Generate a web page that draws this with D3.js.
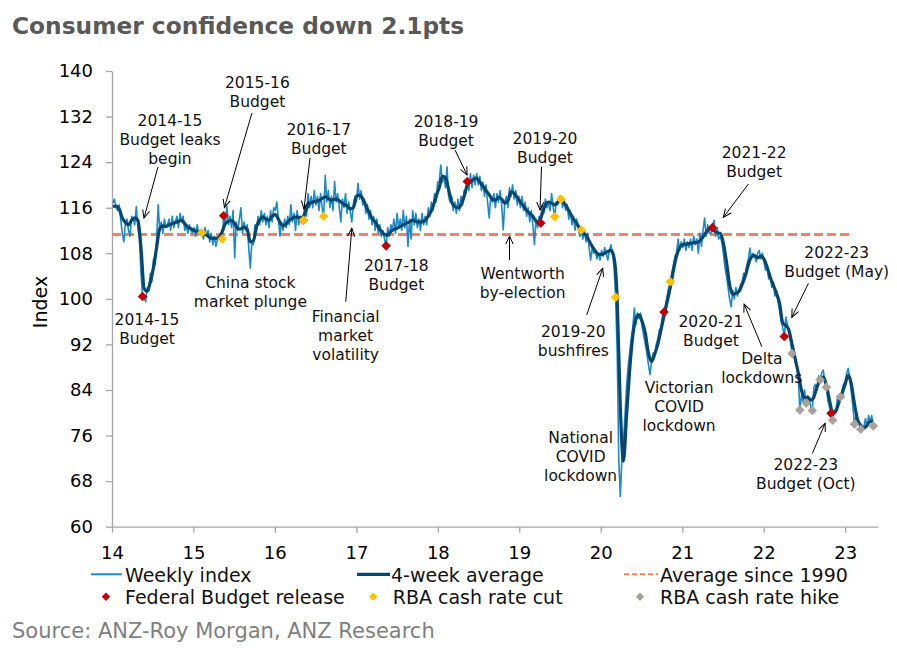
<!DOCTYPE html>
<html>
<head>
<meta charset="utf-8">
<script src="https://cdnjs.cloudflare.com/ajax/libs/d3/7.8.5/d3.min.js"></script>
<style>
  body { margin: 0; background: #fff; }
  svg { font-family: Verdana, "DejaVu Sans", sans-serif; }
</style>
</head>
<body>
<svg id="chart" width="897" height="654"></svg>
<script>
// Weekly index, one array per calendar year (Sunday readings, starting first Sunday of the year)
var weekly2014 = [116.8,117.5,116.0,115.5,116.5,114.0,111.5,110.0,113.5,114.0,112.0,111.0,114.5,114.0,113.0,116.2,112.5,110.5,104.5,100.4,100.2,99.5,102.0,101.5,104.5,103.0,107.0,106.0,110.5,116.5,112.0,113.5,111.5,114.0,112.5,113.0,114.0,112.0,114.5,112.5,113.5,114.5,112.5,115.0,113.5,114.5,112.0,113.0,111.5,113.0,112.0,111.5];
var weekly2015 = [112.5,111.0,113.0,111.5,112.0,111.5,110.5,112.5,111.0,112.0,110.0,111.5,109.5,111.0,109.2,110.5,111.0,110.2,110.5,114.6,113.0,116.2,113.0,114.5,112.5,115.5,107.2,113.5,112.0,114.0,116.0,111.5,113.5,112.0,113.0,109.0,105.4,110.0,109.5,113.0,112.0,114.5,113.0,115.5,113.5,115.0,113.0,114.5,112.5,115.5,113.5,116.0];
var weekly2016 = [115.5,117.0,114.0,111.0,113.5,112.0,114.0,112.5,114.5,113.0,116.5,113.5,115.0,112.0,115.5,113.0,114.5,113.5,113.8,116.5,114.5,118.5,116.0,118.0,116.0,119.0,116.5,118.0,115.5,118.5,116.0,114.5,121.7,117.0,119.0,116.0,118.0,115.5,120.6,117.0,118.5,116.0,113.5,117.5,116.0,118.5,115.0,117.0,115.5,113.5,116.5,118.0];
var weekly2017 = [117.0,120.3,117.5,119.0,116.5,117.5,115.0,116.5,114.0,115.5,113.0,114.5,112.0,114.0,111.5,113.0,111.0,112.0,110.5,109.3,112.5,111.0,113.0,112.0,114.0,111.5,115.0,112.5,114.0,112.0,115.5,112.5,114.5,109.2,114.0,110.5,115.5,113.0,115.0,112.5,114.0,112.0,115.0,113.0,114.5,113.0,116.0,114.5,117.0,115.5,118.5,117.0,120.5];
var weekly2018 = [120.5,123.5,120.5,121.5,119.5,123.2,118.0,117.0,118.0,115.5,117.0,115.0,117.5,115.5,118.0,116.5,119.0,118.5,120.6,119.0,122.0,119.5,121.7,120.0,122.0,120.0,121.5,119.0,120.5,118.0,120.0,117.0,114.2,118.0,117.0,118.5,116.0,118.5,117.0,119.0,116.5,112.1,117.0,118.0,116.0,119.5,118.0,120.0,117.5,119.0,116.5,118.0];
var weekly2019 = [116.0,118.0,115.5,117.0,114.5,116.0,113.5,115.5,113.0,109.5,114.0,112.5,114.5,113.3,116.5,115.0,117.5,116.0,117.0,115.5,118.5,116.0,114.4,117.0,116.5,118.0,117.5,116.0,117.5,115.5,116.5,114.0,115.5,113.0,114.5,112.0,114.0,112.5,111.0,112.1,110.5,112.0,110.0,111.5,109.0,106.8,109.0,108.0,108.5,107.0,108.0,106.8];
var weekly2020 = [108.5,107.5,109.0,108.0,106.8,108.5,109.5,108.0,105.5,100.3,90.5,72.0,65.3,72.0,74.8,79.6,84.7,88.1,90.5,93.0,95.0,98.4,95.5,97.5,96.5,97.5,95.0,93.5,92.0,90.5,88.5,86.7,89.0,90.5,90.0,92.0,93.0,94.5,95.0,97.0,97.7,99.0,100.5,102.0,103.0,104.5,106.0,107.5,108.0,110.5,108.5,110.0];
var weekly2021 = [109.0,110.5,108.5,110.0,109.0,110.5,108.5,111.0,109.5,110.5,108.0,111.5,109.2,112.0,114.2,111.0,113.0,111.5,111.5,112.5,113.8,111.0,112.5,110.5,111.0,110.0,108.0,105.5,104.0,102.0,100.0,98.6,101.5,100.0,102.0,100.5,101.5,102.5,103.0,104.5,104.0,106.0,107.0,108.9,107.0,108.0,107.5,106.5,108.0,108.5,107.0,108.0];
var weekly2022 = [106.5,105.0,106.0,103.5,104.5,102.0,103.0,100.5,101.5,99.5,98.0,96.0,95.0,93.4,96.8,95.5,94.0,92.5,90.4,91.0,89.0,88.0,86.0,80.5,83.0,82.0,84.0,81.7,83.0,82.5,81.0,80.4,84.5,85.0,84.0,86.5,85.8,87.0,87.5,85.5,84.5,82.0,81.0,79.9,78.7,80.5,80.0,82.5,82.0,82.8,84.0,85.0];
var weekly2023 = [85.5,87.0,87.8,86.0,83.5,81.0,78.0,79.5,78.5,78.0,77.1,76.8,77.5,79.0,77.5,79.5,78.5,79.5,77.7,78.0];

// 4-week average, read every second week from the first Sunday of each year
var avg2014 = [116.2,116.3,115.8,114.2,113.4,113.0,113.8,114.2,113.8,109.0,101.8,101.3,103.0,105.5,109.0,112.3,112.8,112.7,113.0,113.2,113.4,113.6,113.8,113.2,112.6,112.3];
var avg2015 = [112.0,111.8,111.5,111.3,111.2,110.8,110.6,110.6,110.8,111.8,113.2,113.6,113.8,113.2,112.3,112.3,112.6,112.2,110.0,110.2,112.7,113.8,114.4,114.0,113.8,114.5];
var avg2016 = [114.8,114.0,113.0,112.9,113.5,114.0,114.3,114.4,114.2,114.5,115.8,116.7,117.0,117.1,117.3,117.6,117.9,117.6,117.3,117.5,117.4,117.0,116.6,116.3,115.8,116.0];
var avg2017 = [118.0,118.2,117.6,116.4,115.2,114.1,113.5,112.6,111.8,111.3,111.2,111.8,112.2,112.4,112.7,113.0,113.3,113.5,113.8,113.6,113.5,113.5,113.8,114.5,115.5,117.0,118.8];
var avg2018 = [119.5,121.5,121.3,119.2,117.0,116.2,116.0,116.5,118.0,120.0,120.5,121.0,121.2,120.5,119.8,119.0,118.3,117.5,117.3,117.8,117.5,116.8,117.2,118.8,118.5,117.8];
var avg2019 = [117.0,116.3,115.5,115.0,114.5,113.6,113.4,115.0,116.5,117.0,116.8,116.5,117.0,117.3,116.8,116.0,115.0,114.0,113.3,112.3,111.5,111.2,110.2,109.2,108.4,107.8];
var avg2020 = [107.8,108.0,108.3,108.5,107.2,100.0,81.0,71.5,79.5,87.5,93.5,96.5,97.2,96.0,94.0,90.5,89.0,90.3,92.0,94.5,97.0,99.5,102.0,105.0,107.5,109.0];
var avg2021 = [109.5,109.6,109.7,109.8,109.9,110.0,110.5,111.3,112.0,112.4,112.0,111.6,111.5,109.8,106.5,102.5,100.8,101.0,101.3,102.5,104.0,106.0,107.4,107.6,107.2,107.5];
var avg2022 = [107.0,105.6,103.8,102.4,101.0,99.2,95.8,95.3,94.5,92.0,89.5,87.0,84.0,82.6,82.7,82.2,82.8,84.5,85.8,86.3,84.8,82.2,80.0,80.3,81.8,83.3];
var avg2023 = [85.0,86.6,85.0,81.5,78.8,77.8,77.3,77.8,78.5,78.5];

var years = [2014,2015,2016,2017,2018,2019,2020,2021,2022,2023];
var weeklyByYear = [weekly2014,weekly2015,weekly2016,weekly2017,weekly2018,weekly2019,weekly2020,weekly2021,weekly2022,weekly2023];
var avgByYear = [avg2014,avg2015,avg2016,avg2017,avg2018,avg2019,avg2020,avg2021,avg2022,avg2023];

var averageSince1990 = 111.3;
var averageLineSpan = ["2014-01-01", "2023-01-22"];

var budgetDates = ["2014-05-18","2015-05-17","2016-05-08","2017-05-14","2018-05-13","2019-04-07","2020-10-11","2021-05-16","2022-04-03","2022-10-30"];
var budgetValues = [100.4,114.6,113.8,109.3,120.6,113.3,97.7,112.5,93.4,79.9];
var cutDates = ["2015-02-08","2015-05-10","2016-05-08","2016-08-07","2019-06-09","2019-07-07","2019-10-06","2020-03-08","2020-11-08"];
var cutValues = [111.6,110.5,113.8,114.5,114.4,117.5,112.1,100.3,103.0];
var hikeDates = ["2022-05-08","2022-06-12","2022-07-10","2022-08-07","2022-09-11","2022-10-09","2022-11-06","2022-12-11","2023-02-12","2023-03-12","2023-05-07"];
var hikeValues = [90.4,80.5,81.7,80.4,85.8,84.5,78.7,82.8,78.0,77.1,77.7];

var yTicks = [60,68,76,84,92,100,108,116,124,132,140];
var xTickYears = [2014,2015,2016,2017,2018,2019,2020,2021,2022,2023];

// annotation: text lines, anchor (decimal year, index at first baseline), optional arrow [from year, from index, to year, to index]
var notes = [
  { lines: ["2014-15","Budget leaks","begin"], at: [14.712,130.34], arrow: [14.565,123.15,14.393,114.19] },
  { lines: ["2015-16","Budget"], at: [15.786,137.02], arrow: [15.719,132.63,15.381,116.04] },
  { lines: ["2016-17","Budget"], at: [16.539,128.76], arrow: [16.431,124.73,16.357,115.77] },
  { lines: ["2014-15","Budget"], at: [14.430,95.41] },
  { lines: ["China stock","market plunge"], at: [15.700,101.85] },
  { lines: ["Financial","market","volatility"], at: [16.867,95.99], arrow: [16.869,99.50,16.943,112.38] },
  { lines: ["2017-18","Budget"], at: [17.490,104.94] },
  { lines: ["2018-19","Budget"], at: [18.101,130.22], arrow: [18.211,126.13,18.359,121.74] },
  { lines: ["2019-20","Budget"], at: [19.316,127.13], arrow: [19.273,123.20,19.255,115.60] },
  { lines: ["Wentworth","by-election"], at: [19.042,103.48], arrow: [18.880,106.82,18.880,111.03] },
  { lines: ["2019-20","bushfires"], at: [19.664,93.35], arrow: [19.828,97.16,20.025,105.36] },
  { lines: ["National","COVID","lockdown"], at: [19.754,74.64] },
  { lines: ["Victorian","COVID","lockdown"], at: [20.961,83.52] },
  { lines: ["2020-21","Budget"], at: [21.351,95.11] },
  { lines: ["2021-22","Budget"], at: [21.882,124.67], arrow: [21.812,120.16,21.505,114.32] },
  { lines: ["Delta","lockdowns"], at: [21.977,88.56], arrow: [21.977,91.60,21.759,99.09] },
  { lines: ["2022-23","Budget (May)"], at: [22.897,107.12], arrow: [22.549,102.73,22.345,96.76] },
  { lines: ["2022-23","Budget (Oct)"], at: [22.517,69.95], arrow: [22.598,72.88,22.754,78.15] }
];

var colWeekly = "#1a8ac9", colAvg = "#07476e", colMean = "#f67f69";
var colBudget = "#c00000", colCut = "#ffc000", colHike = "#a9a19a";

var parse = d3.timeParse("%Y-%m-%d");
function dec(f) {
  var yr = 2000 + Math.floor(f);
  var s = new Date(yr, 0, 1), e = new Date(yr + 1, 0, 1);
  return new Date(+s + (f - Math.floor(f)) * (e - s));
}
function firstSunday(yr) { return d3.timeSunday.ceil(new Date(yr, 0, 1)); }

var weekly = [], avg4 = [];
years.forEach(function(yr, k) {
  weeklyByYear[k].forEach(function(v, i) {
    weekly.push({ date: d3.timeDay.offset(firstSunday(yr), 7 * i), value: v });
  });
  avgByYear[k].forEach(function(v, i) {
    avg4.push({ date: d3.timeDay.offset(firstSunday(yr), 14 * i), value: v });
  });
});

var svg = d3.select("#chart");
var x = d3.scaleTime().domain([new Date(2014, 0, 1), new Date(2023, 4, 27)]).range([112, 877.7]);
var y = d3.scaleLinear().domain([60, 140]).range([526.7, 71]);

// title
svg.append("text").attr("x", 12).attr("y", 34)
  .attr("font-size", 23.3).attr("font-weight", "bold").attr("fill", "#595959")
  .text("Consumer confidence down 2.1pts");

// axes
var yAxis = svg.append("g").attr("transform", "translate(112,0)")
  .call(d3.axisLeft(y).tickValues(yTicks).tickSize(6).tickSizeOuter(0).tickPadding(13));
var xAxis = svg.append("g").attr("transform", "translate(0,526.7)")
  .call(d3.axisBottom(x).tickValues(xTickYears.map(function(d) { return new Date(d, 0, 1); }))
    .tickFormat(d3.timeFormat("%y")).tickSize(6).tickSizeOuter(0).tickPadding(14));
[xAxis, yAxis].forEach(function(g) {
  g.select(".domain").attr("stroke", "#a6a6a6").attr("stroke-width", 1.3);
  g.selectAll(".tick line").attr("stroke", "#a6a6a6").attr("stroke-width", 1.3);
  g.selectAll(".tick text").attr("font-size", 18).attr("fill", "#000")
    .attr("font-family", "Verdana, 'DejaVu Sans', sans-serif");
});

svg.append("text").attr("transform", "translate(46.5,302) rotate(-90)")
  .attr("text-anchor", "middle").attr("font-size", 19).attr("fill", "#000").text("Index");

// average since 1990
svg.append("line")
  .attr("x1", x(parse(averageLineSpan[0]))).attr("x2", x(parse(averageLineSpan[1])))
  .attr("y1", y(averageSince1990)).attr("y2", y(averageSince1990))
  .attr("stroke", colMean).attr("stroke-width", 2.8).attr("stroke-dasharray", "9,4");

// series
var line = d3.line().x(function(d) { return x(d.date); }).y(function(d) { return y(d.value); });
svg.append("path").datum(weekly).attr("d", line)
  .attr("fill", "none").attr("stroke", colWeekly).attr("stroke-width", 1.6).attr("stroke-linejoin", "round");
svg.append("path").datum(avg4).attr("d", line.curve(d3.curveMonotoneX))
  .attr("fill", "none").attr("stroke", colAvg).attr("stroke-width", 3.2).attr("stroke-linejoin", "round");

// markers
function diamond(r) { return "M0," + (-r) + "L" + r + ",0L0," + r + "L" + (-r) + ",0Z"; }
function markers(dates, values, col) {
  svg.append("g").selectAll("path").data(dates).join("path")
    .attr("d", diamond(4.8))
    .attr("transform", function(d, i) { return "translate(" + x(parse(d)) + "," + y(values[i]) + ")"; })
    .attr("fill", col);
}
markers(budgetDates, budgetValues, colBudget);
markers(cutDates, cutValues, colCut);
markers(hikeDates, hikeValues, colHike);

// annotations
svg.append("defs").append("marker").attr("id", "arr")
  .attr("markerUnits", "userSpaceOnUse").attr("markerWidth", 12).attr("markerHeight", 12)
  .attr("viewBox", "-10 -6 12 12").attr("refX", 0).attr("refY", 0).attr("orient", "auto")
  .append("path").attr("d", "M-8,-3.6L0,0L-8,3.6").attr("fill", "none").attr("stroke", "#000").attr("stroke-width", 1);

var ann = svg.append("g").attr("font-size", 15.5).attr("fill", "#111").attr("text-anchor", "middle");
notes.forEach(function(n) {
  var t = ann.append("text").attr("x", x(dec(n.at[0]))).attr("y", y(n.at[1]));
  n.lines.forEach(function(s, i) {
    t.append("tspan").attr("x", x(dec(n.at[0]))).attr("dy", i ? 19 : 0).text(s);
  });
  if (n.arrow) {
    svg.append("line")
      .attr("x1", x(dec(n.arrow[0]))).attr("y1", y(n.arrow[1]))
      .attr("x2", x(dec(n.arrow[2]))).attr("y2", y(n.arrow[3]))
      .attr("stroke", "#000").attr("stroke-width", 1).attr("marker-end", "url(#arr)");
  }
});

// legend
var lg = svg.append("g").attr("font-size", 19).attr("fill", "#111");
lg.append("line").attr("x1", 91).attr("x2", 122).attr("y1", 574.3).attr("y2", 574.3)
  .attr("stroke", colWeekly).attr("stroke-width", 2);
lg.append("text").attr("x", 125).attr("y", 581.7).text("Weekly index");
lg.append("line").attr("x1", 357).attr("x2", 390).attr("y1", 574.3).attr("y2", 574.3)
  .attr("stroke", colAvg).attr("stroke-width", 3.2);
lg.append("text").attr("x", 391).attr("y", 581.7).text("4-week average");
lg.append("line").attr("x1", 624).attr("x2", 658).attr("y1", 574.3).attr("y2", 574.3)
  .attr("stroke", colMean).attr("stroke-width", 2).attr("stroke-dasharray", "5,3");
lg.append("text").attr("x", 660).attr("y", 581.7).text("Average since 1990");

[[106, colBudget, 125, "Federal Budget release"], [373.3, colCut, 392.7, "RBA cash rate cut"], [640, colHike, 660, "RBA cash rate hike"]]
  .forEach(function(e) {
    lg.append("path").attr("d", diamond(4.2)).attr("transform", "translate(" + e[0] + ",596.7)").attr("fill", e[1]);
    lg.append("text").attr("x", e[2]).attr("y", 604.3).text(e[3]);
  });

// source
svg.append("text").attr("x", 12).attr("y", 638.3).attr("font-size", 21).attr("fill", "#7f7f7f")
  .text("Source: ANZ-Roy Morgan, ANZ Research");
</script>
</body>
</html>
